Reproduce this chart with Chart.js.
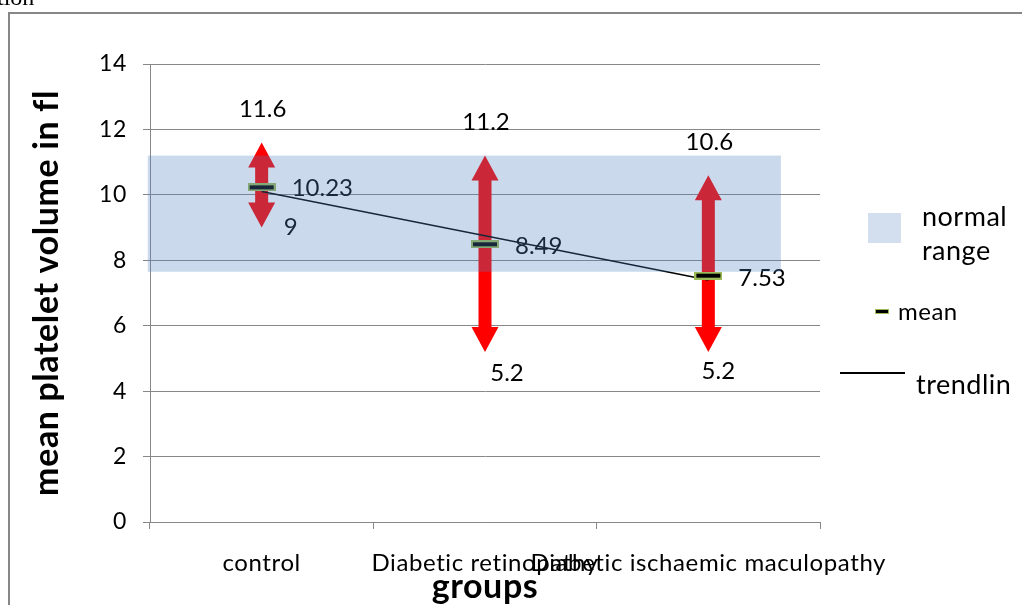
<!DOCTYPE html>
<html>
<head>
<meta charset="utf-8">
<script src="https://cdn.jsdelivr.net/npm/chart.js@4.4.1/dist/chart.umd.min.js"></script>
<style>
  body { margin: 0; background: #fff; overflow: hidden; }
</style>
</head>
<body>
<canvas id="chart" width="1022" height="605"></canvas>
<script>
const groups = ['control', 'Diabetic retinopathy', 'Diabetic ischaemic maculopathy'];
const meanValues = [10.23, 8.49, 7.53];
const minValues = [9, 5.2, 5.2];
const maxValues = [11.6, 11.2, 10.6];
const trendValues = [10.1, 8.75, 7.4];
const normalRange = [7.65, 11.2];
const yTicks = [0, 2, 4, 6, 8, 10, 12, 14];

const FONT = 'Lato';

function meanMarker(w, h, b) {
    const c = document.createElement('canvas');
    c.width = w;
    c.height = h;
    const g = c.getContext('2d');
    g.fillStyle = '#9bbb59';
    g.fillRect(0, 0, w, h);
    g.fillStyle = '#000';
    g.fillRect(b, b, w - 2 * b, h - 2 * b);
    return c;
}

// arrows sit under the mean markers
const arrowsPlugin = {
    id: 'arrows',
    beforeDatasetsDraw(chart) {
        const ctx = chart.ctx;
        const xs = chart.scales.x, ys = chart.scales.y;
        ctx.save();
        ctx.fillStyle = '#ff0000';
        groups.forEach((g, i) => {
            const x = xs.getPixelForValue(i);
            const top = ys.getPixelForValue(maxValues[i]);
            const bot = ys.getPixelForValue(minValues[i]);
            const sw = 6.5, hw = 13.5, hl = 25;
            ctx.beginPath();
            ctx.moveTo(x, top);
            ctx.lineTo(x + hw, top + hl);
            ctx.lineTo(x + sw, top + hl);
            ctx.lineTo(x + sw, bot - hl);
            ctx.lineTo(x + hw, bot - hl);
            ctx.lineTo(x, bot);
            ctx.lineTo(x - hw, bot - hl);
            ctx.lineTo(x - sw, bot - hl);
            ctx.lineTo(x - sw, top + hl);
            ctx.lineTo(x - hw, top + hl);
            ctx.closePath();
            ctx.fill();
        });
        ctx.restore();
    }
};

// value labels, then the normal range band laid over the plot
const labelsPlugin = {
    id: 'labelsBand',
    afterDatasetsDraw(chart) {
        const ctx = chart.ctx;
        const xs = chart.scales.x, ys = chart.scales.y;
        const minOff = [[29, 0], [22, 21], [10, 19]];
        const meanOff = [1, 2, 3];
        ctx.save();
        ctx.letterSpacing = '0px';
        ctx.font = '24px ' + FONT;
        ctx.fillStyle = '#000';
        ctx.textBaseline = 'middle';
        ctx.textAlign = 'center';
        groups.forEach((g, i) => {
            const x = xs.getPixelForValue(i);
            ctx.fillText(String(maxValues[i]), x + 1, ys.getPixelForValue(maxValues[i]) - 33);
            ctx.fillText(String(minValues[i]), x + minOff[i][0], ys.getPixelForValue(minValues[i]) + minOff[i][1]);
        });
        ctx.textAlign = 'left';
        groups.forEach((g, i) => {
            const x = xs.getPixelForValue(i);
            ctx.fillText(meanValues[i].toFixed(2), x + 30, ys.getPixelForValue(meanValues[i]) + meanOff[i]);
        });

        const left = xs.getPixelForValue(-0.51);
        const right = xs.getPixelForValue(2.325);
        const top = ys.getPixelForValue(normalRange[1]);
        const bot = ys.getPixelForValue(normalRange[0]);
        ctx.fillStyle = 'rgba(79,129,189,0.3)';
        ctx.fillRect(left, top, right - left, bot - top);
        ctx.restore();
    }
};

const framePlugin = {
    id: 'frame',
    beforeDraw(chart) {
        const ctx = chart.ctx;
        ctx.save();
        ctx.fillStyle = '#fff';
        ctx.fillRect(0, 0, chart.width, chart.height);
        ctx.strokeStyle = '#878787';
        ctx.lineWidth = 2;
        ctx.strokeRect(9, 13, 1100, 700);
        ctx.fillStyle = '#000';
        ctx.font = '24px "Liberation Serif"';
        ctx.textBaseline = 'alphabetic';
        ctx.fillText('tion', -3, 5);
        ctx.restore();
        // the axis texts in the original run a little wide
        ctx.letterSpacing = '0.6px';
    },
    afterDraw(chart) {
        const ctx = chart.ctx;
        ctx.save();
        ctx.letterSpacing = '0.5px';
        ctx.fillStyle = 'rgba(79,129,189,0.25)';
        ctx.fillRect(868, 213, 33, 30);
        ctx.fillStyle = '#000';
        ctx.font = '27px ' + FONT;
        ctx.textBaseline = 'middle';
        ctx.fillText('normal', 922, 217);
        ctx.fillText('range', 922, 251);
        ctx.drawImage(meanMarker(14, 5, 1), 875, 309);
        ctx.font = '24px ' + FONT;
        ctx.fillText('mean', 898, 312);
        ctx.strokeStyle = '#000';
        ctx.lineWidth = 2;
        ctx.beginPath();
        ctx.moveTo(840, 373);
        ctx.lineTo(905, 373);
        ctx.stroke();
        ctx.font = '27px ' + FONT;
        ctx.fillText('trendlin', 916, 385);
        ctx.restore();
    }
};

new Chart(document.getElementById('chart'), {
    type: 'line',
    data: {
        labels: groups,
        datasets: [{
            label: 'mean',
            data: meanValues,
            showLine: false,
            pointStyle: meanMarker(28, 8, 2),
            pointRadius: 10,
            pointHoverRadius: 10
        }, {
            label: 'trendlin',
            data: trendValues,
            borderColor: '#000',
            borderWidth: 1.5,
            pointRadius: 0,
            fill: false
        }]
    },
    options: {
        responsive: false,
        animation: false,
        events: [],
        layout: {
            padding: { left: 0, top: 64, right: 202, bottom: 0 }
        },
        plugins: {
            legend: { display: false },
            tooltip: { enabled: false }
        },
        scales: {
            x: {
                offset: true,
                grid: {
                    offset: true,
                    drawOnChartArea: false,
                    tickLength: 7,
                    color: '#878787'
                },
                border: { color: '#878787' },
                ticks: {
                    autoSkip: false,
                    maxRotation: 0,
                    padding: 20,
                    color: '#000',
                    font: { family: FONT, size: 24 }
                },
                title: {
                    display: true,
                    text: 'groups',
                    color: '#000',
                    padding: { top: 0, bottom: -2 },
                    font: { family: FONT, size: 34, weight: 'bold' }
                },
                afterFit: s => { s.height = 83; }
            },
            y: {
                min: 0,
                max: 14,
                afterBuildTicks: s => { s.ticks = yTicks.map(v => ({ value: v })); },
                grid: {
                    tickLength: 7,
                    color: '#878787'
                },
                border: { color: '#878787' },
                ticks: {
                    padding: 16,
                    color: '#000',
                    font: { family: FONT, size: 23 }
                },
                title: {
                    display: true,
                    text: 'mean platelet volume in fl',
                    color: '#000',
                    padding: { top: 27, bottom: 0 },
                    font: { family: FONT, size: 34, weight: 'bold' }
                },
                afterFit: s => { s.width = 150; }
            }
        }
    },
    plugins: [framePlugin, arrowsPlugin, labelsPlugin]
});
</script>
</body>
</html>
